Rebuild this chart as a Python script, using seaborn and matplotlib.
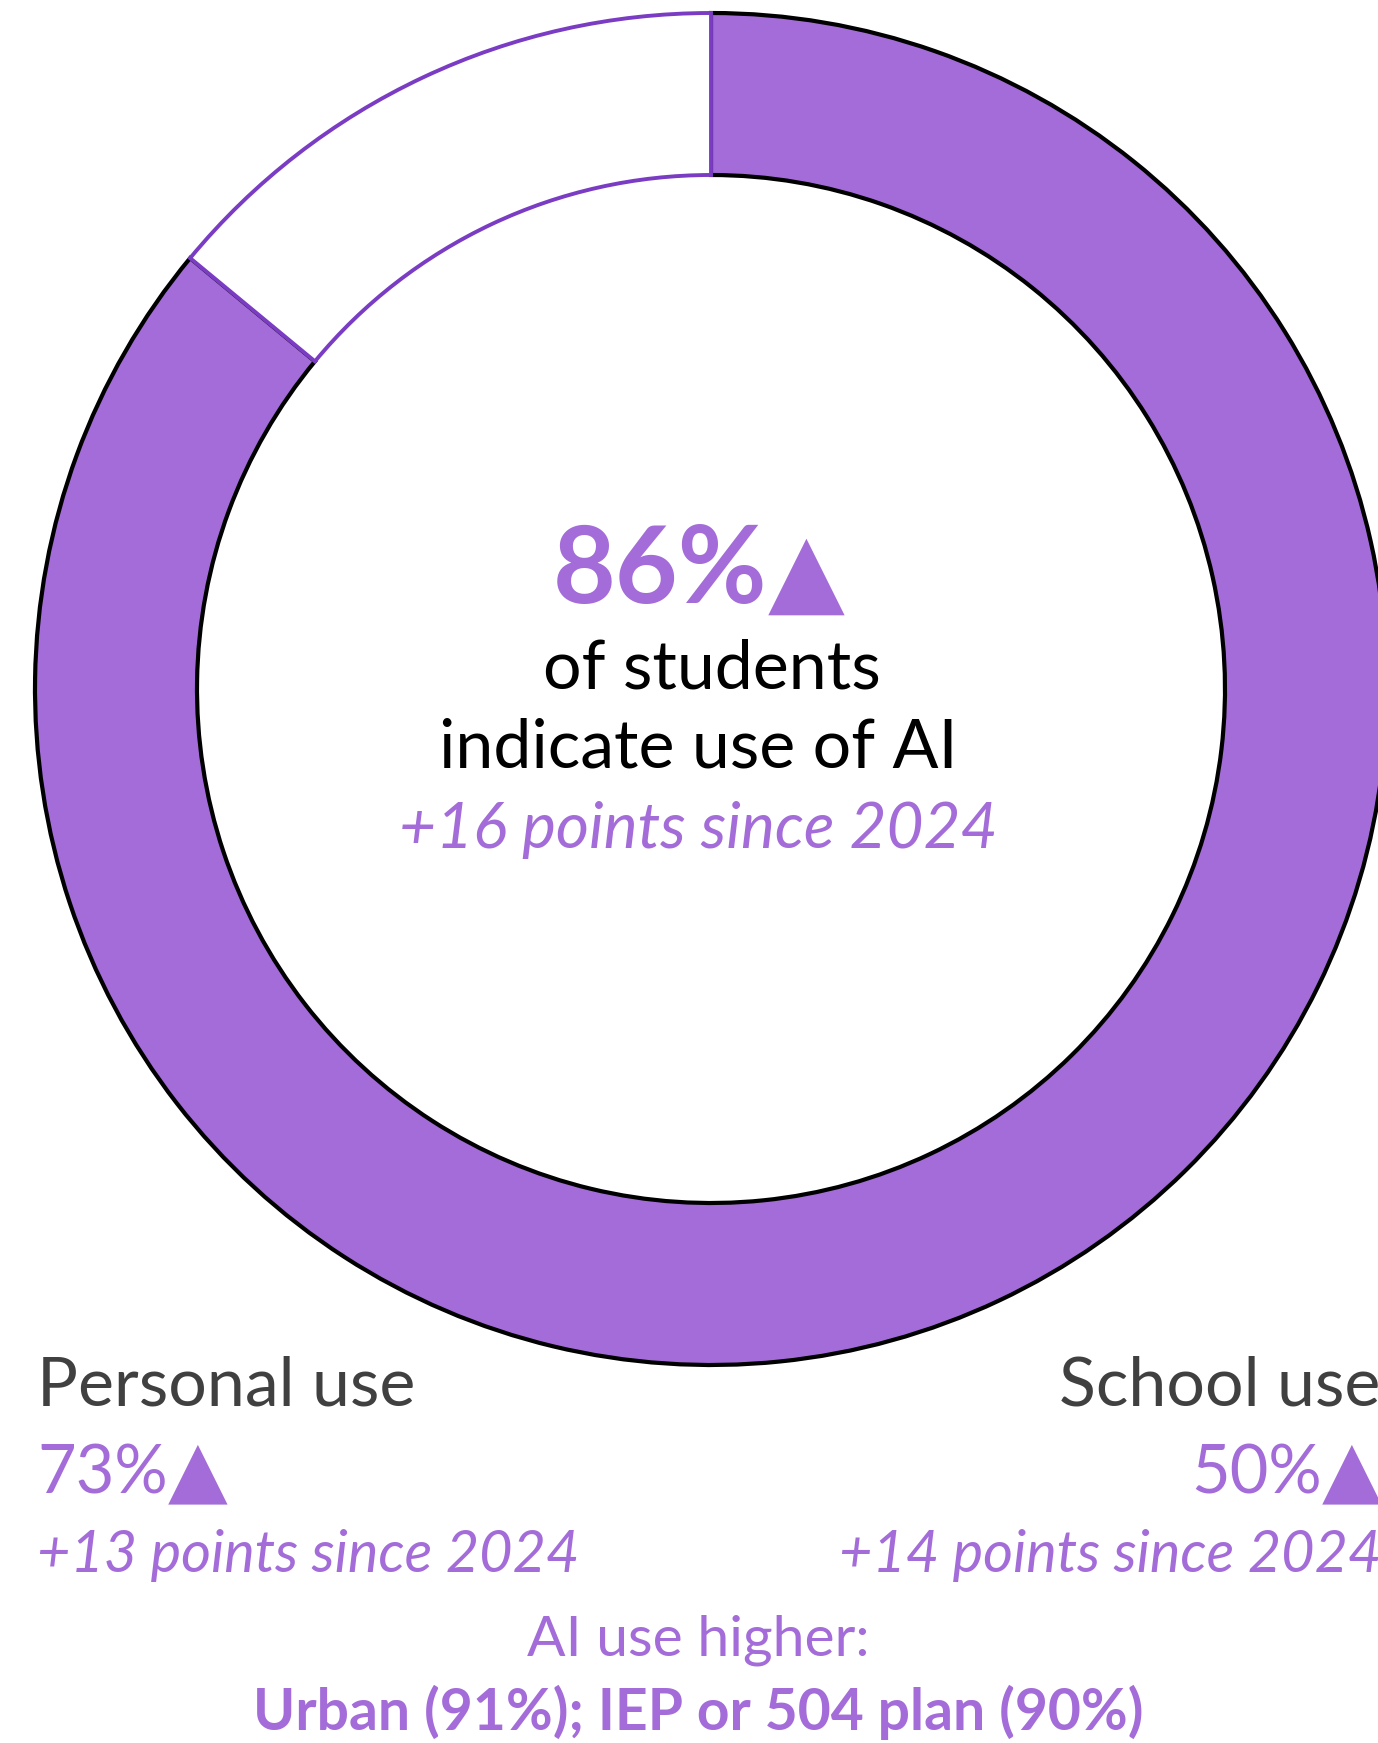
import matplotlib
matplotlib.use("Agg")
import matplotlib.pyplot as plt
import seaborn as sns

# --- data -------------------------------------------------------------
overall_share = 86            # % of students who indicate use of AI
overall_change = 16           # points since 2024
segment_labels = ["Personal use", "School use"]
segment_values = [73, 50]
segment_changes = [13, 14]
baseline_year = 2024
highlight_groups = ["Urban", "IEP or 504 plan"]
highlight_values = [91, 90]

# --- style ------------------------------------------------------------
sns.set_theme(style="white")
plt.rcParams["font.family"] = ["Lato", "DejaVu Sans"]

purple, white = sns.color_palette(["#A36CD8", "#FFFFFF"])
EDGE_PURPLE = "#7B3CC4"
GRAY = "#404040"

W, H = 1378, 1743
fig = plt.figure(figsize=(W / 100, H / 100), dpi=100)
ax = fig.add_axes([0, 0, 1, 1])

# donut geometry in pixel units (y measured from the bottom)
cx, cy = 711, H - 689
R_OUT, R_IN = 676, 514

wedges, _ = ax.pie(
    [overall_share, 100 - overall_share],
    startangle=90,
    counterclock=False,
    radius=R_OUT,
    center=(cx, cy),
    colors=[purple, white],
    wedgeprops=dict(width=R_OUT - R_IN, linewidth=3.0, edgecolor="black"),
)
wedges[1].set_edgecolor(EDGE_PURPLE)
wedges[1].set_linewidth(2.8)
wedges[1].set_zorder(wedges[0].get_zorder() + 1)

ax.set_xlim(0, W)
ax.set_ylim(0, H)
ax.set_aspect("equal")
ax.axis("off")

renderer = fig.canvas.get_renderer()


def value_with_arrow(x_left, y_base, value, size, weight, tri_size, gap=2):
    t = ax.text(x_left, H - y_base, f"{value}%", color=purple, fontsize=size,
                fontweight=weight, ha="left", va="baseline")
    bb = t.get_window_extent(renderer)
    ax.text(bb.x1 + gap, H - y_base, "\u25B2", color=purple, fontsize=tri_size,
            family="DejaVu Sans", ha="left", va="baseline")


# centre of the donut
value_with_arrow(553, 603, overall_share, 78, "bold", 72, gap=0)
ax.text(712, H - 688, "of students", color="black", fontsize=49,
        ha="center", va="baseline")
ax.text(698, H - 767, "indicate use of AI", color="black", fontsize=49,
        ha="center", va="baseline")
ax.text(698, H - 848, f"+{overall_change} points since {baseline_year}",
        color=purple, fontsize=46, style="italic", ha="center", va="baseline")

# personal / school use breakdown
x_lefts = [37, 1059]
val_lefts = [37, 1191]
chg_lefts = [37, 839]
for label, val, chg, xl, xv, xc in zip(segment_labels, segment_values,
                                       segment_changes, x_lefts, val_lefts,
                                       chg_lefts):
    ax.text(xl, H - 1406, label, color=GRAY, fontsize=49, ha="left",
            va="baseline")
    value_with_arrow(xv, 1494, val, 48, "normal", 56, gap=0)
    ax.text(xc, H - 1572, f"+{chg} points since {baseline_year}",
            color=purple, fontsize=41.5, style="italic", ha="left",
            va="baseline")

# subgroup note
ax.text(698, H - 1655, "AI use higher:", color=purple, fontsize=41,
        ha="center", va="baseline")
groups = "; ".join(f"{g} ({v}%)" for g, v in zip(highlight_groups,
                                                  highlight_values))
ax.text(698, H - 1730, groups, color=purple, fontsize=41, fontweight="bold",
        ha="center", va="baseline")

fig.savefig("out.png", dpi=100, facecolor="white")
